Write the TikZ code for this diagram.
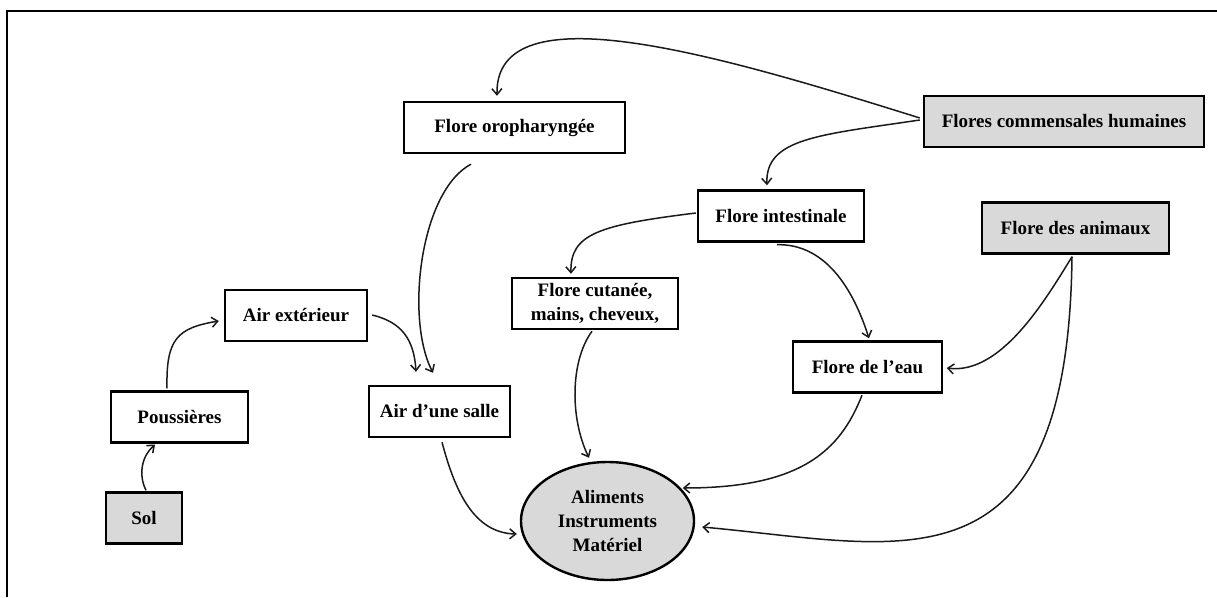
\documentclass[tikz,border=0pt]{standalone}
\usepackage{fontspec}
\setmainfont{Liberation Serif}
\usetikzlibrary{arrows.meta,calc,shapes.geometric}
\definecolor{boxgray}{HTML}{D9D9D9}
\definecolor{inkline}{HTML}{1A1A1A}
\begin{document}
\begin{tikzpicture}[x=1pt,y=-1pt,
  every node/.style={font=\fontsize{19}{24}\selectfont\bfseries, align=center, inner sep=0pt},
  flowbox/.style={draw=black, line width=2.4pt, fill=white, minimum height=51pt},
  sourcebox/.style={flowbox, fill=boxgray},
  link/.style={line width=1.5pt, draw=inkline,
    -{Straight Barb[length=6pt,width=10pt,line width=1.5pt]}}]
\useasboundingbox (0,0) rectangle (1217,597);

% outer frame (top and left edges)
\draw[line width=2.8pt] (7,597) -- (7,11) -- (1217,11);

% sources and intermediate reservoirs
\node[flowbox, minimum width=221pt] (oro) at (514.5,127.5) {Flore oropharyngée};
\node[sourcebox, minimum width=280pt] (comm) at (1064,121.5) {Flores commensales humaines};
\node[flowbox, minimum width=166pt] (intest) at (781,216) {Flore intestinale};
\node[sourcebox, minimum width=187pt] (anim) at (1075.5,228) {Flore des animaux};
\node[flowbox, minimum width=166pt] (cut) at (595,303.5) {Flore cutanée,\\mains, cheveux,};
\node[flowbox, minimum width=142pt] (airext) at (296,315.5) {Air extérieur};
\node[flowbox, minimum width=137pt] (pous) at (179.5,417) {Poussières};
\node[sourcebox, minimum width=76pt] (sol) at (144,518) {Sol};
\node[flowbox, minimum width=141pt] (salle) at (439.5,411.5) {Air d’une salle};
\node[flowbox, minimum width=149pt] (eau) at (867.5,367) {Flore de l’eau};
\node[ellipse, draw=black, line width=2.4pt, fill=boxgray,
      minimum width=173pt, minimum height=118pt] (cible) at (607.5,521)
      {Aliments\\Instruments\\Matériel};

% contamination pathways
\draw[link] ($(comm.west)+(-3,-3.5)$) .. controls +(-201,-63) and +(-2,-107) .. ($(oro.north)+(-17.5,-5)$);
\draw[link] ($(comm.west)+(-3,-1.5)$) .. controls +(-101,15) and +(-2,-47) .. ($(intest.north)+(-14,-4)$);
\draw[link] ($(oro.south)+(-43.5,10)$) .. controls +(-51,27) and +(-28,-54) .. ($(salle.north)+(-6.5,-12)$);
\draw[link] ($(airext.east)+(4,-0.5)$) .. controls +(29,7) and +(-2,-33) .. ($(salle.north)+(-23.5,-13)$);
\draw[link] ($(salle.south)+(2.5,4)$) .. controls +(13,49) and +(-43,-1) .. ($(cible.west)+(-3,13)$);
\draw[link] ($(pous.north)+(-12.5,-2)$) .. controls +(-1,-49) and +(-42,7) .. ($(airext.west)+(-5,5.5)$);
\draw[link] ($(sol.north)+(2,-1)$) .. controls +(-8,-16) and +(-13,11) .. ($(pous.south)+(-24.5,1)$);
\draw[link] ($(intest.west)+(-1,-3)$) .. controls +(-97,12) and +(-1,-40) .. ($(cut.north)+(-24,-3)$);
\draw[link] ($(cut.south)+(-3,1)$) .. controls +(-22,30) and +(-19,-39) .. ($(cible.north)+(-18.5,-3)$);
\draw[link] ($(intest.south)+(-4,2)$) .. controls +(43,-1) and +(-19,-59) .. ($(eau.north)+(1.5,-2)$);
\draw[link] ($(anim.south)+(-3.5,2)$) .. controls +(-27,44) and +(54,7) .. ($(eau.east)+(3.5,1)$);
\draw[link] ($(eau.south)+(-5.5,1.5)$) .. controls +(-22,56) and +(118,0) .. ($(cible.east)+(-12.5,-33)$);
\draw[link] ($(anim.south)+(-3.5,2)$) .. controls +(-4,344) and +(199,18) .. ($(cible.east)+(7,6)$);
\end{tikzpicture}
\end{document}
